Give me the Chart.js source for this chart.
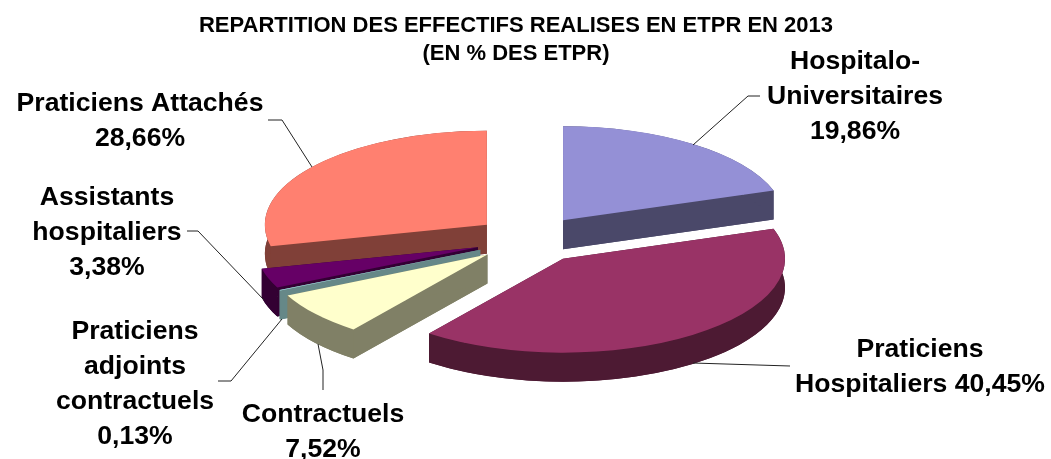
<!DOCTYPE html>
<html lang="fr">
<head>
    <meta charset="UTF-8">
    <title>Répartition des effectifs</title>
    <script src="https://cdn.jsdelivr.net/npm/chart.js"></script>
    <style>
        html, body { margin: 0; padding: 0; background: #fff; overflow: hidden; }
        canvas { display: block; }
    </style>
</head>
<body>
<canvas id="pie" width="1051" height="459"></canvas>
<script>
    const categories = ["Hospitalo-Universitaires", "Praticiens Hospitaliers", "Contractuels",
        "Praticiens adjoints contractuels", "Assistants hospitaliers", "Praticiens Attachés"];
    const values = [19.86, 40.45, 7.52, 0.13, 3.38, 28.66];
    const titleLines = ["REPARTITION DES EFFECTIFS REALISES EN ETPR EN 2013", "(EN % DES ETPR)"];

    const topColors = ["#9490d6", "#993366", "#ffffcc", "#a6e0e6", "#660066", "#ff8070"];
    const sideColors = ["#4a4869", "#4d1a33", "#808066", "#668888", "#330033", "#804038"];

    // label text per slice, the last line carries the value
    const labelText = [
        ["Hospitalo-", "Universitaires"],
        ["Praticiens", "Hospitaliers"],
        ["Contractuels"],
        ["Praticiens", "adjoints", "contractuels"],
        ["Assistants", "hospitaliers"],
        ["Praticiens Attachés"]
    ];
    const valueOnSameLine = [false, true, false, false, false, false];
    const labelCenterX = [855, 920, 323, 135, 107, 140];
    const labelFirstY = [62, 350, 415, 332, 198, 104];
    const leaders = [
        [[693, 145], [748, 96], [760, 96]],
        [[693, 363], [790, 366]],
        [[318, 344], [323, 370], [323, 390]],
        [[282, 319], [231, 381], [218, 381]],
        [[264, 300], [198, 231], [187, 231]],
        [[312, 167], [282, 120], [268, 120]]
    ];

    const CENTER_X = 530.5, CENTER_Y = 239.5;
    const RADIUS = 222, SQUASH = 94 / 222, DEPTH = 29, EXPLODE = 55.7;
    const LABEL_FONT = "bold 26.6px 'Liberation Sans', Arial, sans-serif";
    const LINE_HEIGHT = 35;

    const fmt = v => v.toFixed(2).replace(".", ",") + "%";

    // edge of one slice: bottom face, the two cut walls and the rim band
    function drawWall(ctx, arc, x, y, color) {
        const rx = arc.outerRadius, ry = rx * SQUASH;
        const a0 = arc.startAngle, a1 = arc.endAngle;
        const fillWall = (a) => {
            const px = x + Math.cos(a) * rx, py = y + Math.sin(a) * ry;
            ctx.beginPath();
            ctx.moveTo(x, y);
            ctx.lineTo(px, py);
            ctx.lineTo(px, py + DEPTH);
            ctx.lineTo(x, y + DEPTH);
            ctx.closePath();
            ctx.fill();
        };
        ctx.fillStyle = color;
        ctx.beginPath();
        ctx.moveTo(x, y + DEPTH);
        ctx.ellipse(x, y + DEPTH, rx, ry, 0, a0, a1);
        ctx.closePath();
        ctx.fill();
        fillWall(a0);
        fillWall(a1);
        ctx.beginPath();
        ctx.ellipse(x, y, rx, ry, 0, a0, a1);
        ctx.ellipse(x, y + DEPTH, rx, ry, 0, a1, a0, true);
        ctx.closePath();
        ctx.fill();
    }

    // squashes the library's arcs into an exploded pie with a thick edge
    const pie3d = {
        id: "pie3d",
        beforeDatasetsDraw(chart) {
            const ctx = chart.ctx;
            const arcs = chart.getDatasetMeta(0).data.map((arc, i) => {
                const mid = (arc.startAngle + arc.endAngle) / 2;
                return { arc, i, mid };
            });
            // back to front
            arcs.sort((a, b) => Math.sin(a.mid) - Math.sin(b.mid));
            arcs.forEach(({ arc, i, mid }) => {
                const x = CENTER_X + Math.cos(mid) * EXPLODE;
                const y = CENTER_Y + Math.sin(mid) * EXPLODE * SQUASH;
                ctx.save();
                drawWall(ctx, arc, x, y, sideColors[i]);
                ctx.translate(x, y);
                ctx.scale(1, SQUASH);
                ctx.translate(-arc.x, -arc.y);
                arc.draw(ctx);
                ctx.restore();
            });
            return false;
        },
        afterDraw(chart) {
            const ctx = chart.ctx;
            ctx.save();
            ctx.strokeStyle = "#222";
            ctx.lineWidth = 1;
            leaders.forEach(pts => {
                ctx.beginPath();
                pts.forEach((p, k) => k ? ctx.lineTo(p[0], p[1]) : ctx.moveTo(p[0], p[1]));
                ctx.stroke();
            });
            ctx.fillStyle = "#000";
            ctx.font = LABEL_FONT;
            ctx.textAlign = "center";
            ctx.textBaseline = "middle";
            categories.forEach((c, i) => {
                const lines = labelText[i].slice();
                if (valueOnSameLine[i]) lines[lines.length - 1] += " " + fmt(values[i]);
                else lines.push(fmt(values[i]));
                lines.forEach((t, k) => ctx.fillText(t, labelCenterX[i], labelFirstY[i] + k * LINE_HEIGHT));
            });
            ctx.restore();
        }
    };

    new Chart(document.getElementById("pie"), {
        type: "pie",
        data: {
            labels: categories,
            datasets: [{ data: values, backgroundColor: topColors, borderWidth: 0, radius: RADIUS }]
        },
        options: {
            responsive: false,
            animation: false,
            layout: { padding: { right: 19 } },
            plugins: {
                legend: { display: false },
                tooltip: { enabled: false },
                title: {
                    display: true,
                    text: titleLines,
                    color: "#000",
                    fullSize: false,
                    font: { family: "'Liberation Sans', Arial, sans-serif", size: 22, weight: "bold", lineHeight: 1.27 },
                    padding: { top: 12, bottom: 0 }
                }
            }
        },
        plugins: [pie3d]
    });
</script>
</body>
</html>
